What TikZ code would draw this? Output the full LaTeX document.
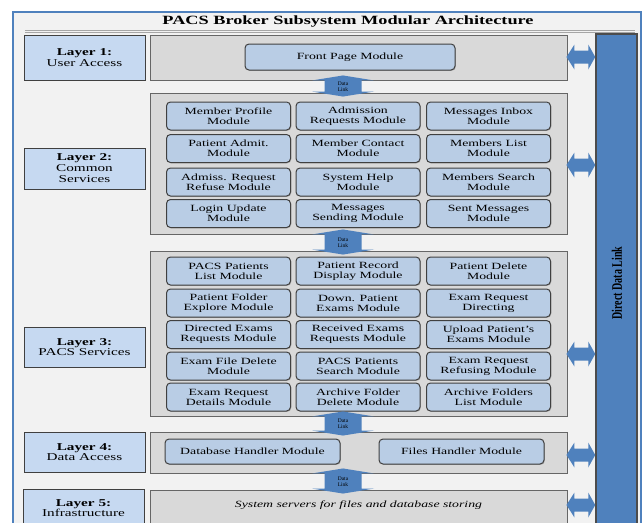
\documentclass[tikz,border=0pt]{standalone}
\usepackage{fontspec}
\setmainfont{Liberation Serif}[FakeStretch=1.45]
\newfontfamily\plainserif{Liberation Serif}
\usetikzlibrary{calc,shadows}
\definecolor{frameblue}{RGB}{79,129,189}
\definecolor{bgpanel}{RGB}{242,242,242}
\definecolor{labelfill}{RGB}{198,217,241}
\definecolor{modfill}{RGB}{185,205,229}
\definecolor{layerfill}{RGB}{217,217,217}
\definecolor{edgegray}{RGB}{64,64,64}
\definecolor{rulegray}{RGB}{166,166,166}
\newcommand{\vlink}[3]{%
  \fill[frameblue] let \p1=(#1.south -| linkx), \p2=(#2.north -| linkx) in
    (\x1,\y1+5pt) -- (\x1+31pt,\y1) -- (\x1+18.5pt,\y1) -- (\x1+18.5pt,\y2+1pt)
    -- (\x1+31pt,\y2+1pt) -- (\x1,\y2-4pt) -- (\x1-31pt,\y2+1pt) -- (\x1-18.5pt,\y2+1pt)
    -- (\x1-18.5pt,\y1) -- (\x1-31pt,\y1) -- cycle;
  \node[linktext] (#3) at ($(#1.south -| linkx)!0.5!(#2.north -| linkx)$) {Data\\Link};}
\newcommand{\hlink}[2]{%
  \fill[frameblue] let \p1=(#1.east), \p2=(bar.west), \p3=(0,#2) in
    (\x1-1pt,\y3) -- (\x1+7pt,\y3+12.5pt) -- (\x1+7pt,\y3+6.5pt) -- (\x2-7pt,\y3+6.5pt)
    -- (\x2-7pt,\y3+12.5pt) -- (\x2,\y3) -- (\x2-7pt,\y3-12.5pt) -- (\x2-7pt,\y3-6.5pt)
    -- (\x1+7pt,\y3-6.5pt) -- (\x1+7pt,\y3-12.5pt) -- cycle;}
\begin{document}
\begin{tikzpicture}[x=1pt,y=-1pt,
  labelbox/.style={draw=edgegray, line width=0.9pt, fill=labelfill, align=center,
    font=\fontsize{10.5}{10.5}\selectfont, inner sep=0pt, minimum width=121pt,
    drop shadow={shadow xshift=0.7pt, shadow yshift=-0.7pt, fill=black!45}},
  layerbox/.style={draw=black!60, line width=0.9pt, fill=layerfill, inner sep=0pt, minimum width=417pt},
  modbox/.style={draw=edgegray, line width=1pt, fill=modfill, rounded corners=4pt, align=center,
    inner sep=0pt, font=\fontsize{9.5}{10}\selectfont, minimum width=124pt, minimum height=28pt,
    drop shadow={shadow xshift=0.8pt, shadow yshift=-0.8pt, fill=black!50}},
  linktext/.style={font=\plainserif\fontsize{5.5}{6}\selectfont, align=center, inner sep=0pt},
]
\useasboundingbox (0,0) rectangle (644,522);
\fill[white] (0,0) rectangle (644,522);
\clip (0,0) rectangle (644,522);
% outer frame
\draw[frameblue, line width=1.2pt, fill=bgpanel] (13,12) rectangle (641,545);
\node[font=\bfseries\fontsize{12.6}{14}\selectfont, inner sep=0pt] (title) at (348,21)
  {PACS Broker Subsystem Modular Architecture};
\draw[rulegray, line width=0.8pt] (25,30.3) -- (635,30.3);
\draw[rulegray, line width=0.8pt] (25,32.3) -- (635,32.3);
\coordinate (linkx) at (343,0);
% direct data link bar
\node[draw=black!70, line width=1.5pt, fill=frameblue, minimum width=41pt, minimum height=511pt,
  inner sep=0pt] (bar) at (616.5,289.5) {};
\node[rotate=90, inner sep=0pt] (barlabel) at (617,283)
  {\scalebox{1}[1.45]{\plainserif\bfseries\fontsize{10}{12}\selectfont Direct Data Link}};
% layer boxes
\node[layerbox, minimum height=45pt] (g1) at (358.5,57.5) {};
\node[layerbox, minimum height=141pt] (g2) at (358.5,163.5) {};
\node[layerbox, minimum height=165pt] (g3) at (358.5,333.5) {};
\node[layerbox, minimum height=41pt] (g4) at (358.5,452.5) {};
\node[layerbox, minimum height=56pt] (g5) at (358.5,518) {};
% layer labels
\node[labelbox, minimum height=45pt] (l1) at (84.5,57.5) {\textbf{Layer 1:}\\User Access};
\node[labelbox, minimum height=41pt, font=\fontsize{10.5}{11}\selectfont] (l2) at (84.5,168.5) {\textbf{Layer 2:}\\Common\\Services};
\node[labelbox, minimum height=40pt] (l3) at (84.5,347) {\textbf{Layer 3:}\\PACS Services};
\node[labelbox, minimum height=40pt] (l4) at (84.5,452) {\textbf{Layer 4:}\\Data Access};
\node[labelbox, minimum height=38pt] (l5) at (83.5,508) {\textbf{Layer 5:}\\Infrastructure};
% layer 1
\node[modbox, minimum width=210pt, minimum height=26pt] (front) at (350,57) {Front Page Module};
% layer 2 modules
\node[modbox] (m2a) at (228.5,116) {Member Profile\\Module};
\node[modbox] (m2b) at (358,116) {Admission\\Requests Module};
\node[modbox] (m2c) at (488.5,116) {Messages Inbox\\Module};
\node[modbox] (m2d) at (228.5,148.5) {Patient Admit.\\Module};
\node[modbox] (m2e) at (358,148.5) {Member Contact\\Module};
\node[modbox] (m2f) at (488.5,148.5) {Members List\\Module};
\node[modbox] (m2g) at (228.5,182) {Admiss. Request\\Refuse Module};
\node[modbox] (m2h) at (358,182) {System Help\\Module};
\node[modbox] (m2i) at (488.5,182) {Members Search\\Module};
\node[modbox] (m2j) at (228.5,213.5) {Login Update\\Module};
\node[modbox] (m2k) at (358,213.5) {Messages\\Sending Module};
\node[modbox] (m2l) at (488.5,213.5) {Sent Messages\\Module};
% layer 3 modules
\node[modbox] (m3a) at (228.5,271) {PACS Patients\\List Module};
\node[modbox] (m3b) at (358,271) {Patient Record\\Display Module};
\node[modbox] (m3c) at (488.5,271) {Patient Delete\\Module};
\node[modbox] (m3d) at (228.5,303) {Patient Folder\\Explore Module};
\node[modbox] (m3e) at (358,303) {Down. Patient\\Exams Module};
\node[modbox] (m3f) at (488.5,303) {Exam Request\\Directing};
\node[modbox] (m3g) at (228.5,334.5) {Directed Exams\\Requests Module};
\node[modbox] (m3h) at (358,334.5) {Received Exams\\Requests Module};
\node[modbox] (m3i) at (488.5,334.5) {Upload Patient's\\Exams Module};
\node[modbox] (m3j) at (228.5,366) {Exam File Delete\\Module};
\node[modbox] (m3k) at (358,366) {PACS Patients\\Search Module};
\node[modbox] (m3l) at (488.5,366) {Exam Request\\Refusing Module};
\node[modbox] (m3m) at (228.5,397) {Exam Request\\Details Module};
\node[modbox] (m3n) at (358,397) {Archive Folder\\Delete Module};
\node[modbox] (m3o) at (488.5,397) {Archive Folders\\List Module};
% layer 4 modules
\node[modbox, minimum width=175pt, minimum height=25pt] (db) at (252.5,451.5) {Database Handler Module};
\node[modbox, minimum width=165pt, minimum height=25pt] (files) at (461.5,451.5) {Files Handler Module};
% layer 5 text
\node[font=\itshape\fontsize{9.5}{11}\selectfont, inner sep=0pt] (servers) at (358.5,505)
  {System servers for files and database storing};
% data links between layers
\vlink{g1}{g2}{dl1}
\vlink{g2}{g3}{dl2}
\vlink{g3}{g4}{dl3}
\vlink{g4}{g5}{dl4}
% direct links to bar
\hlink{g1}{57}
\hlink{g2}{165}
\hlink{g3}{354}
\hlink{g4}{455}
\hlink{g5}{505}
\end{tikzpicture}
\end{document}
